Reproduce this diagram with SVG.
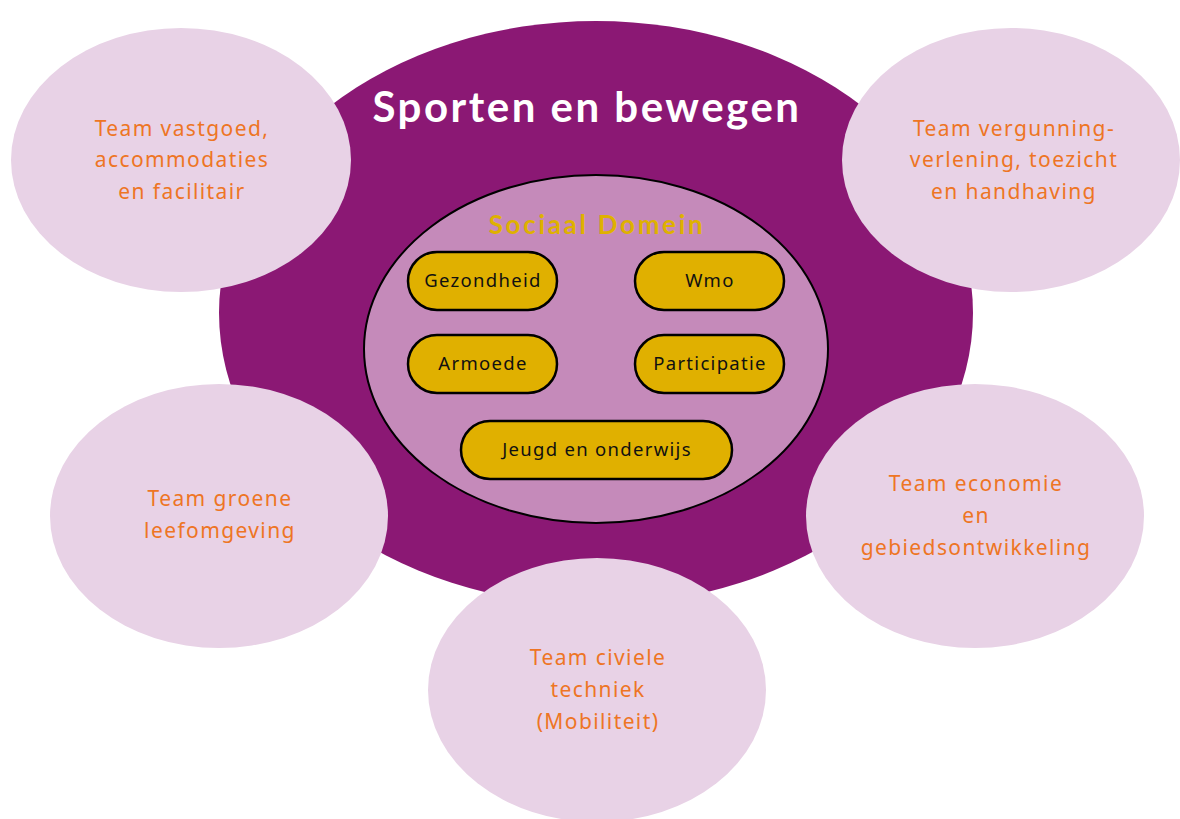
<svg xmlns="http://www.w3.org/2000/svg" width="1180" height="819" viewBox="0 0 1180 819">
<style>
.team{fill:#E8D2E6}
.tt{font-family:"Noto Sans","Liberation Sans",sans-serif;font-size:21px;letter-spacing:1.4px;fill:#EE7524;text-anchor:middle}
.pill{fill:#E0B000;stroke:#000;stroke-width:2.5}
.pt{font-family:"Noto Sans","Liberation Sans",sans-serif;font-size:18.5px;letter-spacing:1.3px;fill:#111;text-anchor:middle}
</style>
<rect width="1180" height="819" fill="#fff"/>
<g id="sporten">
<ellipse cx="596" cy="313" rx="377" ry="292" fill="#8B1874"/>
<text x="587" y="122" font-family="Lato,'Noto Sans',sans-serif" font-weight="bold" font-size="42" letter-spacing="2.5" fill="#fff" text-anchor="middle">Sporten en bewegen</text>
</g>
<g id="sociaal">
<ellipse cx="596" cy="349" rx="232" ry="174" fill="#C58ABA" stroke="#000" stroke-width="2"/>
<text x="597" y="234" font-family="Lato,'Noto Sans',sans-serif" font-weight="bold" font-size="26" letter-spacing="2.7" fill="#DFB100" text-anchor="middle">Sociaal Domein</text>
</g>
<g id="gezondheid"><rect class="pill" x="408" y="252" width="149" height="58" rx="29"/><text class="pt" x="483" y="287">Gezondheid</text></g>
<g id="wmo"><rect class="pill" x="635" y="252" width="149" height="58" rx="29"/><text class="pt" x="710" y="287">Wmo</text></g>
<g id="armoede"><rect class="pill" x="408" y="335" width="149" height="58" rx="29"/><text class="pt" x="483" y="370">Armoede</text></g>
<g id="participatie"><rect class="pill" x="635" y="335" width="149" height="58" rx="29"/><text class="pt" x="710" y="370">Participatie</text></g>
<g id="jeugd"><rect class="pill" x="461" y="421" width="271" height="58" rx="29"/><text class="pt" x="597" y="456">Jeugd en onderwijs</text></g>
<g id="vastgoed"><ellipse class="team" cx="181" cy="160" rx="170" ry="132"/>
<text class="tt" x="182" y="136">Team vastgoed,</text><text class="tt" x="182" y="167">accommodaties</text><text class="tt" x="182" y="199">en facilitair</text></g>
<g id="vergunning"><ellipse class="team" cx="1011" cy="160" rx="169" ry="132"/>
<text class="tt" x="1014" y="136">Team vergunning-</text><text class="tt" x="1014" y="167">verlening, toezicht</text><text class="tt" x="1014" y="199">en handhaving</text></g>
<g id="groene"><ellipse class="team" cx="219" cy="516" rx="169" ry="132"/>
<text class="tt" x="220" y="506">Team groene</text><text class="tt" x="220" y="538">leefomgeving</text></g>
<g id="economie"><ellipse class="team" cx="975" cy="516" rx="169" ry="132"/>
<text class="tt" x="976" y="491">Team economie</text><text class="tt" x="976" y="523">en</text><text class="tt" x="976" y="555">gebiedsontwikkeling</text></g>
<g id="civiele"><ellipse class="team" cx="597" cy="690" rx="169" ry="132"/>
<text class="tt" x="598" y="665">Team civiele</text><text class="tt" x="598" y="697">techniek</text><text class="tt" x="598" y="729">(Mobiliteit)</text></g>
<g id="connectors"/>
</svg>
